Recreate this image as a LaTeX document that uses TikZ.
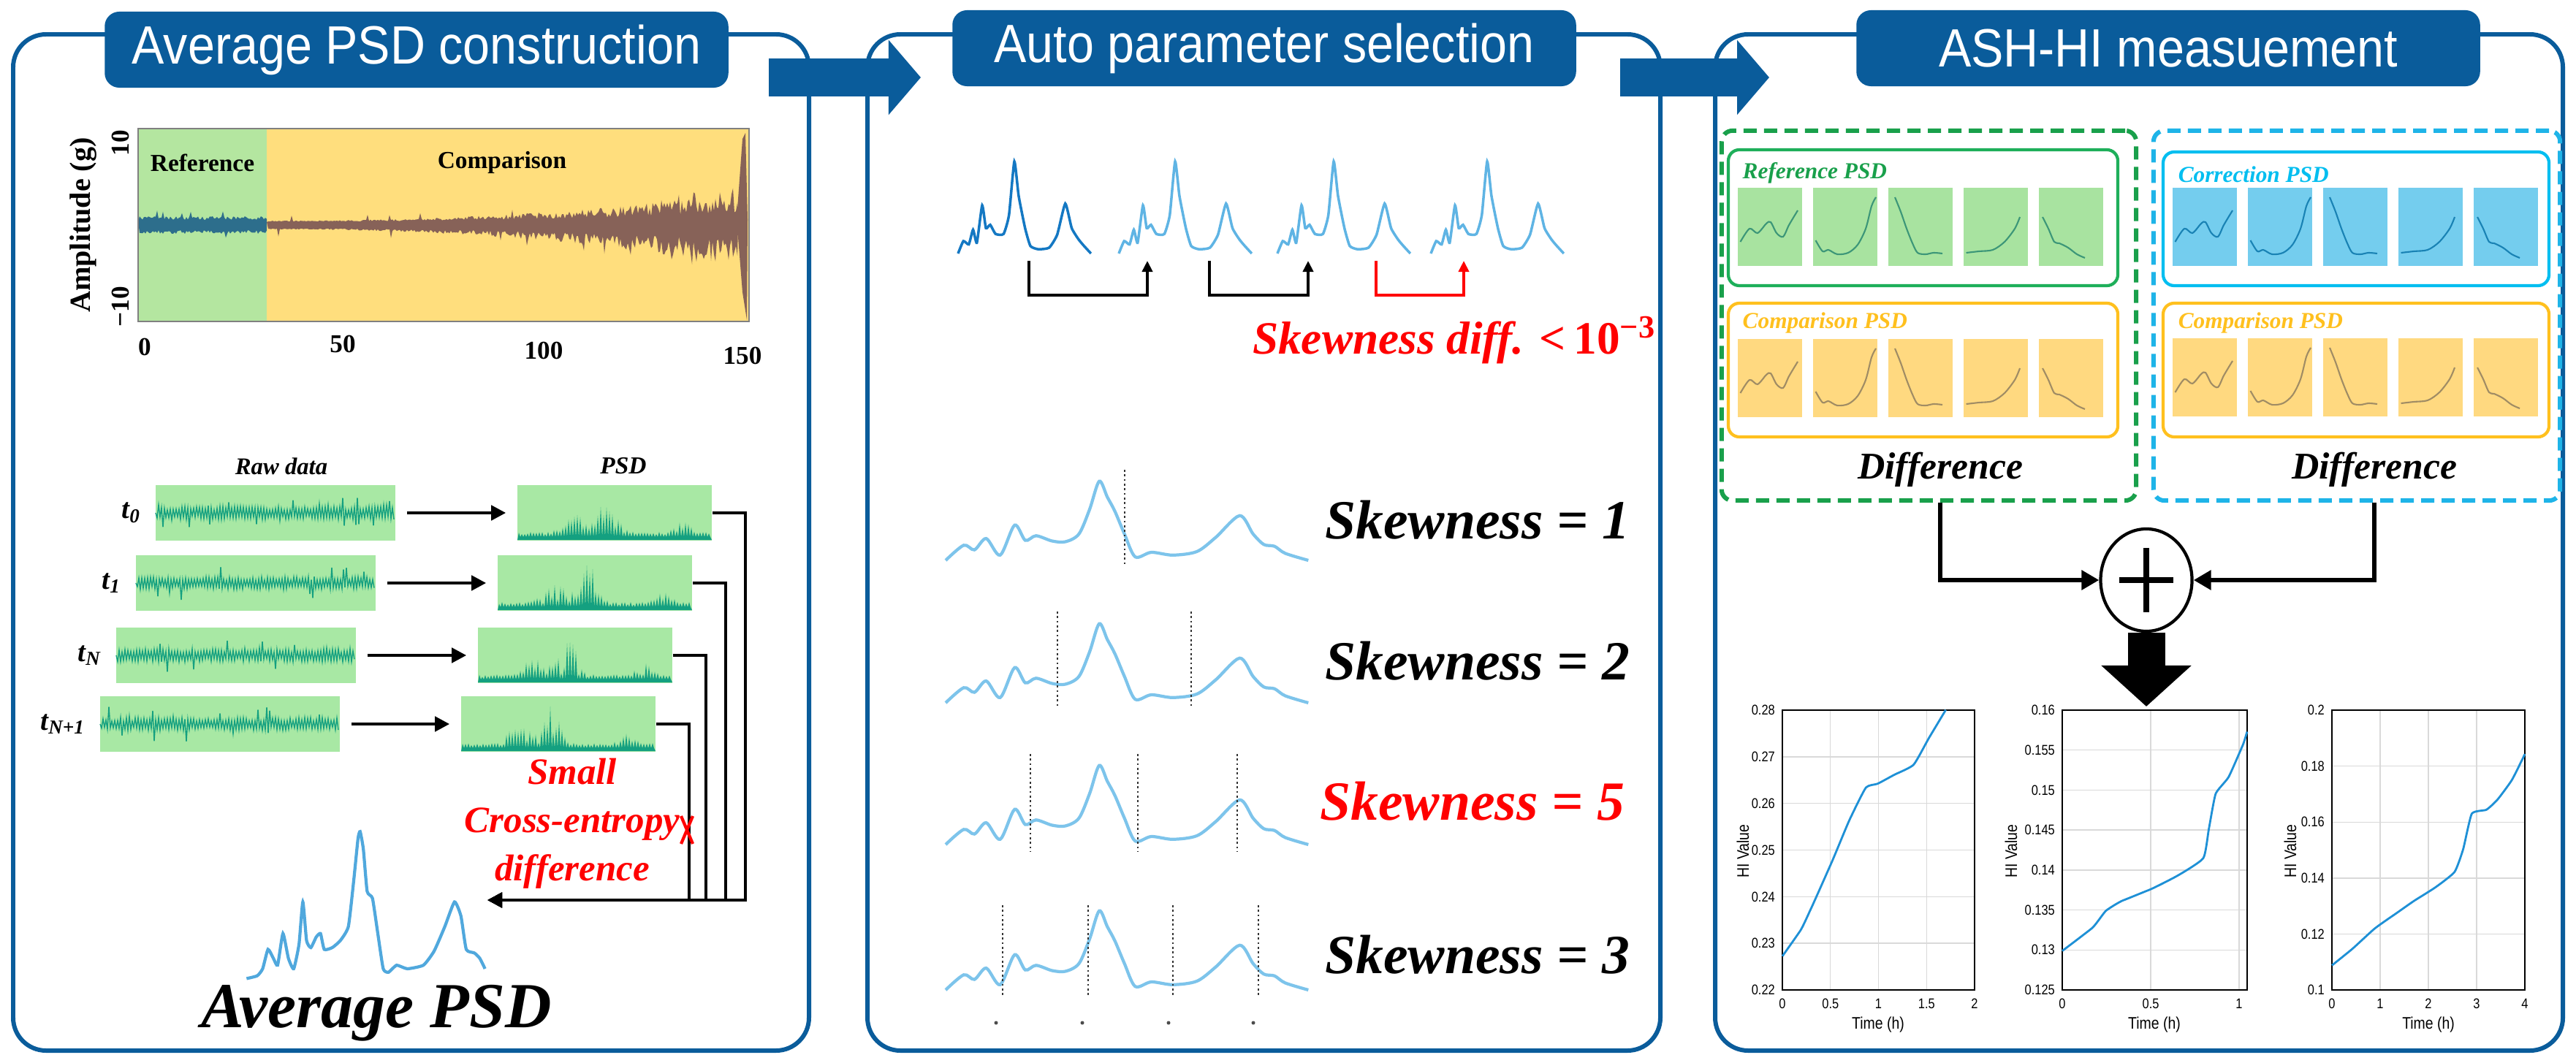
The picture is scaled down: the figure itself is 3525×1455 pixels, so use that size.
\documentclass[tikz,border=0pt]{standalone}
\usepackage{fontspec}
\setmainfont{Liberation Serif}
\newfontfamily\titlefont[FakeStretch=0.9]{Liberation Sans}
\newfontfamily\axfont[FakeStretch=0.85]{Liberation Sans}
\usetikzlibrary{arrows.meta,shapes.geometric}

\definecolor{hdblue}{RGB}{10,92,155}
\definecolor{refgreen}{RGB}{180,230,160}
\definecolor{cmpyellow}{RGB}{255,222,125}
\definecolor{sigblue}{RGB}{45,110,140}
\definecolor{sigbrown}{RGB}{135,98,88}
\definecolor{rawgreen}{RGB}{168,232,164}
\definecolor{rawteal}{RGB}{20,160,128}
\definecolor{psdblue}{RGB}{95,180,228}
\definecolor{psddark}{RGB}{20,120,195}
\definecolor{skewblue}{RGB}{125,196,235}
\definecolor{boxgreen}{RGB}{30,175,90}
\definecolor{boxyellow}{RGB}{255,192,30}
\definecolor{boxcyan}{RGB}{0,190,240}
\definecolor{dashgreen}{RGB}{25,160,75}
\definecolor{dashcyan}{RGB}{30,180,232}
\definecolor{thgreen}{RGB}{168,227,160}
\definecolor{thyellow}{RGB}{255,217,128}
\definecolor{thblue}{RGB}{116,205,238}
\definecolor{thgline}{RGB}{60,150,120}
\definecolor{thyline}{RGB}{160,140,100}
\definecolor{thbline}{RGB}{25,130,180}
\definecolor{hiblue}{RGB}{30,144,214}

\newcommand\thumbrow[4]{%
	\begin{scope}[shift={(#1,#2)}]
		\foreach \i in {0,...,4} \fill[#3] ({103*\i},0) rectangle ++(88,-107);
		\draw[#4,line width=0.6pt] plot[smooth] coordinates {(3.5,-33) (16,-51) (27,-45) (39,-58) (45,-60) (53,-45) (62,-40) (70,-56) (82,-76)};
		\draw[#4,line width=0.6pt] plot[smooth] coordinates {(106.5,-35) (116,-20) (124,-22) (136,-16) (151,-18) (164,-29) (175,-51) (183,-82) (189,-94)};
		\draw[#4,line width=0.6pt] plot[smooth] coordinates {(215,-94) (223,-74) (231,-51) (239,-31) (246,-18) (257,-16) (268,-18) (280,-17)};
		\draw[#4,line width=0.6pt] plot[smooth] coordinates {(312.5,-18) (330,-20) (349,-22) (365,-33) (379,-51) (386,-67)};
		\draw[#4,line width=0.6pt] plot[smooth] coordinates {(417,-67) (425,-51) (433,-33) (440,-31) (452,-25) (464,-16) (475,-11)};
	\end{scope}}
\newcommand\skewcurve[1]{\draw[skewline,shift={(1294,#1)}] plot[smooth,tension=0.5] coordinates {(0,0) (24.7,-20.7) (39.4,-14.4) (55.5,-29.9) (74.6,-7.2) (94.4,-48.2) (109,-27.4) (123.7,-33.7) (145.7,-26.5) (164,-25.5) (182.4,-36.1) (197,-69.8) (210.2,-108.3) (221.2,-86.7) (231.5,-67.4) (244.7,-36.1) (259.4,-4.8) (281.4,-11) (310.7,-7.2) (343.7,-12) (369.4,-31.3) (402.4,-61.2) (420.7,-36.1) (435.4,-21.7) (450,-19.3) (464.7,-9.6) (496.3,0)};}
\newcommand\topseg[2]{\draw[#2,line width=1pt,shift={(#1,347)}] plot[smooth,tension=0.3] coordinates {(0,0) (7.3,-17) (14.7,-12.5) (20.5,-32.6) (25.7,-14.7) (33,-66) (38.1,-34.8) (44,-39.3) (51.3,-26.8) (62.3,-26.8) (69.7,-52.7) (77,-126) (82.9,-79) (91.7,-34.8) (99,-10.3) (110,-5.8) (124.7,-8) (135.7,-25.9) (146.7,-68.3) (155.5,-34.8) (165,-19.2) (172.4,-10.3) (181.9,0)};}

\begin{document}
\begin{tikzpicture}[x=0.01cm,y=-0.01cm,
		panel/.style={draw=hdblue,line width=1.7pt,rounded corners=0.45cm},
		titlebox/.style={fill=hdblue,rounded corners=0.2cm,minimum width=8.53cm,minimum height=1.04cm,inner sep=0pt,text=white,font=\titlefont\fontsize{21}{24}\selectfont},
		bigarrow/.style={hdblue,line width=0.52cm,-{Triangle[length=0.44cm,width=1cm]}},
		bi/.style={font=\bfseries\itshape\fontsize{#1}{#1}\selectfont},
		bu/.style={font=\bfseries\fontsize{#1}{#1}\selectfont},
		arr/.style={line width=1.3pt,-{Triangle[length=0.2cm,width=0.2cm]}},
		conn/.style={line width=1.7pt,-{Triangle[length=0.24cm,width=0.26cm]}},
		rawbox/.style={fill=rawgreen,minimum width=3.28cm,minimum height=0.75cm,inner sep=0pt},
		skewline/.style={skewblue,line width=1.2pt},
		cutline/.style={black!80,line width=0.8pt,densely dotted},
		brk/.style={line width=1.2pt,-{Triangle[length=0.15cm,width=0.14cm]}},
		psdframe/.style={rounded corners=0.15cm,line width=1.2pt},
		dashbox/.style={draw=#1,dash pattern=on 0.18cm off 0.1cm,line width=1.7pt,rounded corners=0.15cm,minimum width=5.6cm,minimum height=5.06cm},
		hgrid/.style={black!15,line width=0.4pt},
		hiline/.style={hiblue,line width=0.8pt},
		ticklab/.style={font=\axfont\fontsize{5.5}{6}\selectfont,inner sep=1pt},
		axlab/.style={font=\axfont\fontsize{6.5}{7}\selectfont,inner sep=1pt}]
	\pgfmathsetseed{3}
	\fill[white] (0,0) rectangle (3525,1455);
	\useasboundingbox (0,0) rectangle (3525,1455);

	\draw[panel] (18,47) rectangle (1107,1438);
	\draw[panel] (1187,47) rectangle (2272,1438);
	\draw[panel] (2347,47) rectangle (3507,1438);
	\node[titlebox] (t1) at (570,68) {Average PSD construction};
	\node[titlebox] (t2) at (1730,66) {Auto parameter selection};
	\node[titlebox] (t3) at (2967,66) {ASH-HI measuement};
	\coordinate (a1) at (1052,106);
	\coordinate (a2) at (1260,106);
	\coordinate (a3) at (2217,106);
	\coordinate (a4) at (2421,106);
	\draw[bigarrow] (a1) -- (a2);
	\draw[bigarrow] (a3) -- (a4);

	\fill[refgreen] (189,176) rectangle (365,440);
	\fill[cmpyellow] (365,176) rectangle (1025,440);
	\fill[sigblue] (189,303) \foreach \k in {1,...,88}{ -- ({189+2*\k},{303-(2+5*rnd+9*(rnd>0.95))})} -- (365,313) \foreach \k in {88,...,1}{ -- ({189+2*\k},{313+(2+5*rnd+9*(rnd>0.95))})} -- cycle;
	\fill[sigbrown] (365,304) \foreach \k in {1,...,322}{ -- ({365+2*\k},{304-(2+38*pow(\k/322,2.2))*(0.3+0.7*rnd)-8*(rnd>0.96)})} -- (1010,312) \foreach \k in {322,...,1}{ -- ({365+2*\k},{312+(2+50*pow(\k/322,2.2))*(0.3+0.7*rnd)+10*(rnd>0.96)})} -- cycle;
	\fill[sigbrown] (1008,300) -- (1016,190) -- (1020,182) -- (1023,300) -- (1022,438) -- (1016,400) -- cycle;
	\draw[black!50,line width=0.6pt] (189,176) rectangle (1025,440);
	\node[bu=9.5] (ref) at (277,223) {Reference};
	\node[bu=9.5] (cmp) at (687,222) {Comparison};
	\node[bu=10,rotate=90] (ytop) at (165,196) {10};
	\node[bu=10,rotate=90] (ybot) at (165,420) {−10};
	\node[bu=11.4,rotate=90] (ylab) at (114,308) {Amplitude (g)};
	\foreach \v/\x/\y in {0/198/475,50/469/471,100/744/480,150/1016/487}
		\node[bu=10] (x\v) at (\x,\y) {\v};

	\node[bi=9.3] (rd) at (385,638) {Raw data};
	\node[bi=9.5] (pd) at (853,638) {PSD};
	\coordinate (avgin) at (667,1232);
	\foreach \n/\xr/\xp/\yc/\s in {0/213/708/702/0,1/186/681/798/1,N/159/654/897/{\textit{N}},M/137/631/991/{\textit{N}+1}}{
		\node[rawbox] (r\n) at ({\xr+164},\yc) {};
		\node[rawbox,minimum width=2.66cm] (q\n) at ({\xp+133},\yc) {};
		\node[bi=11,anchor=east] (l\n) at ({\xr-8},\yc) {t\textsubscript{\s}};
		\draw[rawteal,line width=0.4pt] (\xr,\yc) \foreach \k in {1,...,163}{ -- ({\xr+2*\k},{\yc+(4+5*rnd+16*(rnd>0.9)*rnd)*(2*mod(\k,2)-1)})};
		\fill[rawteal] (\xp,{\yc+37}) \foreach \k in {1,...,132}{ -- ({\xp+2*\k},{\yc+33-(3+sqrt(rnd)*(4+24*exp(max(-9,0-pow((\k/132-0.3)/0.08,2)))+52*exp(max(-9,0-pow((\k/132-0.47)/0.06,2)))+16*exp(max(-9,0-pow((\k/132-0.86)/0.05,2)))))*mod(\k,2)})} -- ({\xp+266},{\yc+37}) -- cycle;
		\draw[arr,shorten <=0.15cm,shorten >=0.15cm] (r\n) -- (q\n);
		\draw[arr] (q\n.east) -- ++(45,0) |- (avgin);
	}
	\node[text=red,align=center,font=\bfseries\itshape\fontsize{14.5}{18.7}\selectfont] (ce) at (783,1127) {Small\\Cross-entropy\\difference};
	\draw[red,line width=1.2pt] (932,1117) -- (948,1155) (948,1117) -- (932,1155);
	\draw[psdblue!80!psddark,line width=1.2pt] plot[smooth,tension=0.3] coordinates {(337.4,1339.4) (352,1335.6) (359.4,1326) (366.7,1299.5) (374,1311.5) (379.9,1321) (387.2,1277.8) (394.6,1311.5) (401.9,1326) (409.2,1292.2) (414.4,1234.5) (419.5,1287.4) (425.4,1297) (432.7,1282.6) (438.6,1277.8) (443.7,1299.5) (454.7,1297) (465.7,1287.4) (476.7,1268.2) (484,1205.6) (489.9,1147.8) (492.8,1138.2) (497.2,1162.2) (502.4,1220) (509.7,1229.6) (517,1277.8) (524.4,1326) (531.7,1330.8) (542.7,1321.1) (557.4,1326) (579.4,1321.1) (594,1301.9) (608.7,1268.2) (621.9,1234.5) (630.7,1253.7) (638,1299.5) (649,1304.3) (656.4,1311.5) (663.7,1326)};
	\node[bi=25] (avg) at (515,1387) {Average PSD};

	\topseg{1311}{psddark}
	\topseg{1531}{psdblue}
	\topseg{1748}{psdblue}
	\topseg{1958}{psdblue}
	\coordinate (b1) at (1408,357);
	\coordinate (b2) at (1570,357);
	\coordinate (b3) at (1655,357);
	\coordinate (b4) at (1790,357);
	\coordinate (b5) at (1883,357);
	\coordinate (b6) at (2003,357);
	\draw[brk] (b1) -- ++(0,47) -| (b2);
	\draw[brk] (b3) -- ++(0,47) -| (b4);
	\draw[brk,red] (b5) -- ++(0,47) -| (b6);
	\node[bi=18,text=red] (sd) at (1990,466) {Skewness diff. {\upshape<\,10\textsuperscript{−3}}};

	\skewcurve{767}
	\skewcurve{962}
	\skewcurve{1156}
	\skewcurve{1355}
	\foreach \x/\a/\b in {1539/643/775,1447/837/967,1630/837/967,1410/1032/1165,1557/1032/1165,1693/1032/1165,1372/1239/1362,1489/1239/1362,1605/1239/1362,1722/1239/1362}
		\draw[cutline] (\x,\a) -- (\x,\b);
	\foreach \x in {1363,1481,1599,1715}
		\fill[black!70] (\x,1400) circle (0.25mm);
	\node[bi=21.5] (k1) at (2022,712) {Skewness = 1};
	\node[bi=21.5] (k2) at (2022,905) {Skewness = 2};
	\node[bi=21.5,text=red] (k3) at (2015,1097) {Skewness = 5};
	\node[bi=21.5] (k4) at (2022,1307) {Skewness = 3};

	\node[dashbox=dashgreen,minimum width=5.67cm] (dg) at (2639.5,432) {};
	\node[dashbox=dashcyan,minimum width=5.56cm] (db) at (3225,432) {};
	\draw[psdframe,boxgreen] (2365,205) rectangle (2898,391);
	\draw[psdframe,boxyellow] (2365,415) rectangle (2898,598);
	\draw[psdframe,boxcyan] (2960,208) rectangle (3488,391);
	\draw[psdframe,boxyellow] (2960,415) rectangle (3488,598);
	\node[bi=8.9,text=dashgreen,anchor=west,inner sep=0pt] (lr) at (2384,237) {Reference PSD};
	\node[bi=8.9,text=boxyellow,anchor=west,inner sep=0pt] (lc) at (2384,442) {Comparison PSD};
	\node[bi=8.9,text=boxcyan,anchor=west,inner sep=0pt] (lk) at (2980,239) {Correction PSD};
	\node[bi=8.9,text=boxyellow,anchor=west,inner sep=0pt] (ld) at (2980,442) {Comparison PSD};
	\thumbrow{2378}{364}{thgreen}{thgline}
	\thumbrow{2378}{571}{thyellow}{thyline}
	\thumbrow{2973}{364}{thblue}{thbline}
	\thumbrow{2973}{570}{thyellow}{thyline}
	\node[bi=14.7] (dl) at (2655,643) {Difference};
	\node[bi=14.7] (dr) at (3249,643) {Difference};

	\node[draw,ellipse,line width=1.2pt,minimum width=1.25cm,minimum height=1.4cm,inner sep=0pt] (plus) at (2937,794) {};
	\draw[line width=2.4pt] ([xshift=-0.37cm]plus.center) -- ([xshift=0.37cm]plus.center) ([yshift=-0.44cm]plus.center) -- ([yshift=0.44cm]plus.center);
	\draw[conn] (dl |- dg.south) |- (plus);
	\draw[conn] (dr |- db.south) |- (plus);
	\coordinate (h2) at (2937,967);
	\draw[line width=0.51cm,-{Triangle[length=0.56cm,width=1.2cm]}] (plus.south) -- (h2);

	\draw[hgrid] \foreach \i in {0,...,4}{({2439+65.75*\i},972) -- ({2439+65.75*\i},1355)} \foreach \i in {0,...,6}{(2439,{1355-63.83*\i}) -- (2702,{1355-63.83*\i})};
	\draw[line width=0.6pt] (2439,972) rectangle (2702,1355);
	\foreach \v [count=\i from 0] in {0.22,0.23,0.24,0.25,0.26,0.27,0.28}
		\node[ticklab,anchor=east] (ya\i) at (2433,{1355-63.83*\i}) {\v};
	\foreach \v [count=\i from 0] in {0,0.5,1,1.5,2}
		\node[ticklab] (xa\i) at ({2439+65.75*\i},1374) {\v};
	\node[axlab,rotate=90] (yla) at (2385,1165) {HI Value};
	\node[axlab] (xla) at (2570,1403) {Time (h)};
	\begin{scope}[shift={(2439,1355)},xscale=131.5,yscale=-6383,shift={(0,-0.22)}]
		\draw[hiline] plot[smooth,tension=0.3] coordinates {(0,0.2272) (0.19,0.2328) (0.3,0.2375) (0.516,0.2475) (0.7,0.2565) (0.87,0.2634) (0.99,0.2642) (1.17,0.2662) (1.365,0.2683) (1.525,0.274) (1.7,0.28)};
	\end{scope}

	\draw[hgrid] \foreach \i in {0,...,2}{({2822+121*\i},972) -- ({2822+121*\i},1355)} \foreach \i in {0,...,7}{(2822,{1355-54.71*\i}) -- (3075,{1355-54.71*\i})};
	\draw[line width=0.6pt] (2822,972) rectangle (3075,1355);
	\foreach \v [count=\i from 0] in {0.125,0.13,0.135,0.14,0.145,0.15,0.155,0.16}
		\node[ticklab,anchor=east] (yb\i) at (2816,{1355-54.71*\i}) {\v};
	\foreach \v [count=\i from 0] in {0,0.5,1}
		\node[ticklab] (xb\i) at ({2822+121*\i},1374) {\v};
	\node[axlab,rotate=90] (ylb) at (2752,1165) {HI Value};
	\node[axlab] (xlb) at (2948,1403) {Time (h)};
	\begin{scope}[shift={(2822,1355)},xscale=242,yscale=-10943,shift={(0,-0.125)}]
		\draw[hiline] plot[smooth,tension=0.3] coordinates {(0,0.1299) (0.168,0.1327) (0.248,0.1349) (0.345,0.1362) (0.49,0.1375) (0.65,0.1393) (0.797,0.1415) (0.829,0.1452) (0.868,0.1496) (0.94,0.1516) (1.02,0.1556) (1.045,0.1573)};
	\end{scope}

	\draw[hgrid] \foreach \i in {0,...,4}{({3191+66*\i},972) -- ({3191+66*\i},1355)} \foreach \i in {0,...,5}{(3191,{1355-76.6*\i}) -- (3455,{1355-76.6*\i})};
	\draw[line width=0.6pt] (3191,972) rectangle (3455,1355);
	\foreach \v [count=\i from 0] in {0.1,0.12,0.14,0.16,0.18,0.2}
		\node[ticklab,anchor=east] (yc\i) at (3185,{1355-76.6*\i}) {\v};
	\foreach \v [count=\i from 0] in {0,1,2,3,4}
		\node[ticklab] (xc\i) at ({3191+66*\i},1374) {\v};
	\node[axlab,rotate=90] (ylc) at (3134,1165) {HI Value};
	\node[axlab] (xlc) at (3323,1403) {Time (h)};
	\begin{scope}[shift={(3191,1355)},xscale=66,yscale=-3830,shift={(0,-0.1)}]
		\draw[hiline] plot[smooth,tension=0.3] coordinates {(0,0.1088) (0.41,0.1145) (0.89,0.122) (1.3,0.127) (1.72,0.132) (2.13,0.1365) (2.54,0.1421) (2.72,0.1503) (2.9,0.163) (3.2,0.1644) (3.43,0.168) (3.73,0.175) (4.0,0.1843)};
	\end{scope}
\end{tikzpicture}
\end{document}
